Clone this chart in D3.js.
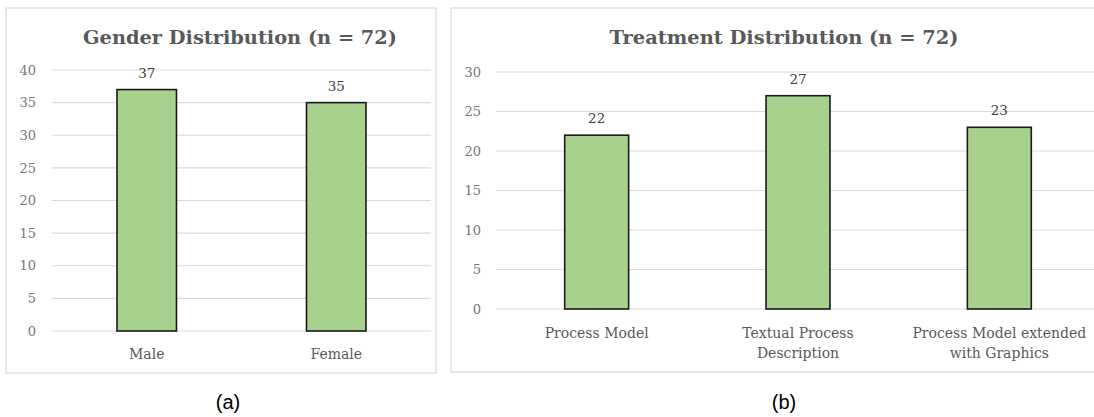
<!DOCTYPE html>
<html><head><meta charset="utf-8">
<script src="https://cdn.jsdelivr.net/npm/d3@7"></script>
<style>body{margin:0;background:#fff}svg{display:block}</style>
</head><body>
<svg id="c" width="1094" height="417"></svg>
<script>
const genderCategories = ["Male", "Female"];
const genderValues = [37, 35];
const genderTicks = [0, 5, 10, 15, 20, 25, 30, 35, 40];
const genderTitle = "Gender Distribution (n = 72)";

const treatmentCategories = [["Process Model"], ["Textual Process", "Description"], ["Process Model extended", "with Graphics"]];
const treatmentValues = [22, 27, 23];
const treatmentTicks = [0, 5, 10, 15, 20, 25, 30];
const treatmentTitle = "Treatment Distribution (n = 72)";

const captions = ["(a)", "(b)"];

const svg = d3.select("#c");
const serif = "'DejaVu Serif', 'Liberation Serif', serif";
const GRAY = "#595959";

function fitText(sel, target) {
  const w = sel.node().getComputedTextLength();
  const fs = parseFloat(sel.attr("font-size"));
  sel.attr("font-size", (fs * target / w).toFixed(2));
}

function chart(o) {
  const g = svg.append("g");
  g.append("rect").attr("x", o.panel[0]).attr("y", o.panel[1])
    .attr("width", o.panel[2] - o.panel[0]).attr("height", o.panel[3] - o.panel[1])
    .attr("fill", "#fff").attr("stroke", "#d9d9d9").attr("stroke-width", 1.2);

  const x = d3.scaleBand().domain(o.cats.map((d, i) => i)).range(o.xr)
    .paddingInner(o.pad).paddingOuter(o.pad / 2);
  const y = d3.scaleLinear().domain([0, o.ymax]).range(o.yr);

  // gridlines
  g.append("g").selectAll("line").data(o.ticks).join("line")
    .attr("x1", o.gx[0]).attr("x2", o.gx[1])
    .attr("y1", d => y(d)).attr("y2", d => y(d))
    .attr("stroke", "#d9d9d9").attr("stroke-width", 1.2);

  // y axis labels
  const ax = g.append("g").attr("transform", `translate(${o.tickX},0)`)
    .call(d3.axisLeft(y).tickValues(o.ticks).tickSize(0).tickPadding(0));
  ax.select(".domain").remove();
  ax.selectAll("text").attr("font-family", serif).attr("font-size", 13).attr("fill", "#767676");

  // bars
  g.append("g").selectAll("rect").data(o.vals).join("rect")
    .attr("x", (d, i) => x(i)).attr("width", x.bandwidth())
    .attr("y", d => y(d)).attr("height", d => y(0) - y(d))
    .attr("fill", "#a9d18e").attr("stroke", "#1a1a1a").attr("stroke-width", 1.6);

  // value labels
  g.append("g").selectAll("text").data(o.vals).join("text")
    .attr("x", (d, i) => x(i) + x.bandwidth() / 2).attr("y", d => y(d) - 12)
    .attr("text-anchor", "middle").attr("font-family", serif).attr("font-size", 13.5)
    .attr("fill", "#404040").text(d => d);

  // category labels
  const cl = g.append("g").selectAll("text").data(o.cats).join("text")
    .attr("x", (d, i) => x(i) + x.bandwidth() / 2).attr("y", o.catY)
    .attr("text-anchor", "middle").attr("font-family", serif).attr("font-size", 14)
    .attr("fill", GRAY);
  cl.each(function(d) {
    const t = d3.select(this);
    (Array.isArray(d) ? d : [d]).forEach((line, k) => {
      t.append("tspan").attr("x", t.attr("x")).attr("dy", k === 0 ? 0 : 20).text(line);
    });
  });

  // title
  const tt = g.append("text").attr("x", o.titleX).attr("y", 44)
    .attr("text-anchor", "middle").attr("font-family", serif).attr("font-weight", "bold")
    .attr("font-size", 19).attr("fill", GRAY).text(o.title);
  fitText(tt, o.titleW);

  // caption
  g.append("text").attr("x", o.capX).attr("y", 409).attr("text-anchor", "middle")
    .attr("font-family", "'Liberation Sans', Arial, sans-serif").attr("font-size", 20)
    .attr("fill", "#000").text(o.caption);
}

chart({
  panel: [6, 8, 436, 373], xr: [52, 431], gx: [52, 431], yr: [331, 70], ymax: 40,
  pad: 1 - 59.5 / 189.5, cats: genderCategories, vals: genderValues, ticks: genderTicks,
  tickX: 36, catY: 359, title: genderTitle, titleX: 240, titleW: 314, capX: 228, caption: captions[0]
});
chart({
  panel: [451, 8, 1100, 372], xr: [496, 1100], gx: [496, 1094], yr: [309, 72], ymax: 30,
  pad: 1 - 64 / 201.5, cats: treatmentCategories, vals: treatmentValues, ticks: treatmentTicks,
  tickX: 481, catY: 338, title: treatmentTitle, titleX: 784, titleW: 349, capX: 784, caption: captions[1]
});
</script>
</body></html>
